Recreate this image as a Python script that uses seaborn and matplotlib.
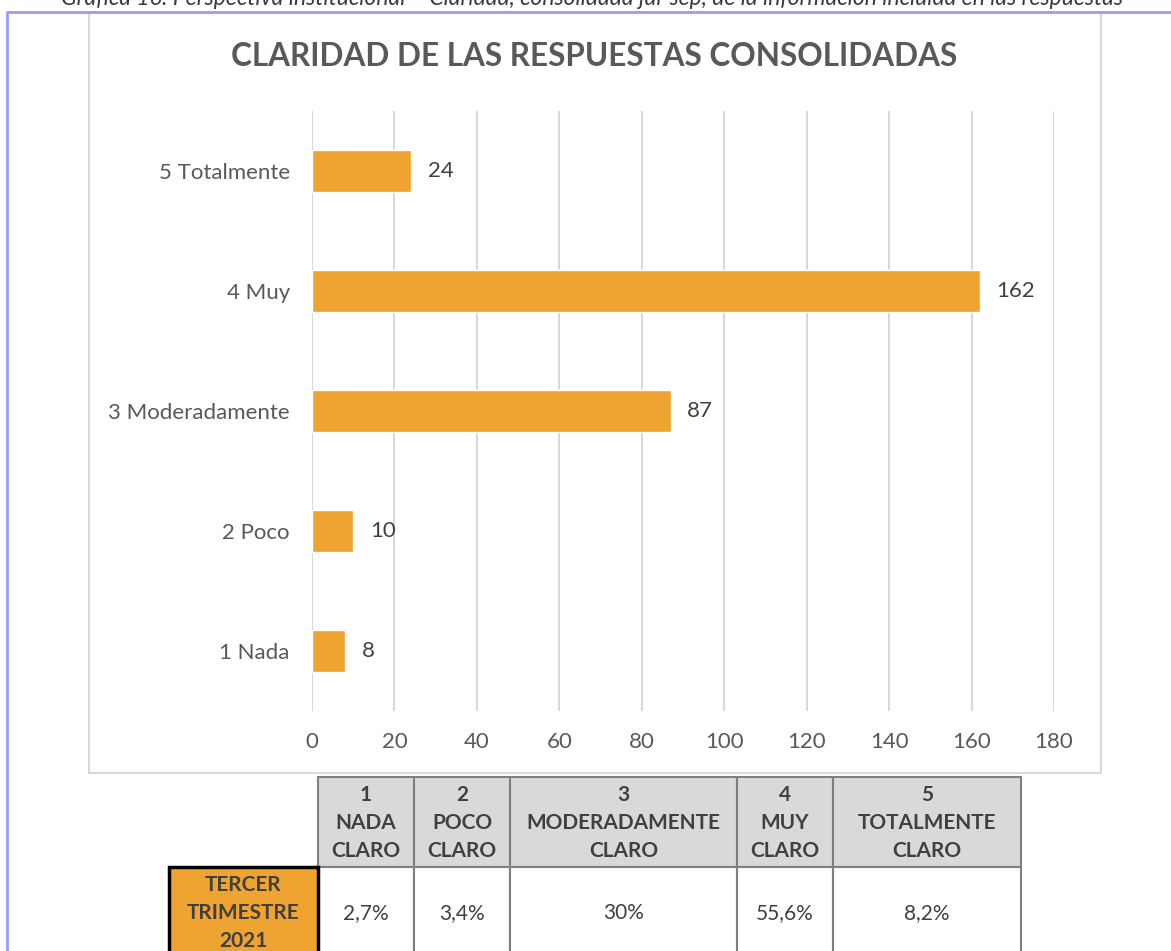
import matplotlib
matplotlib.use("Agg")
import matplotlib.pyplot as plt
import seaborn as sns
import pandas as pd
from matplotlib.patches import Rectangle

# data
categorias = ["5 Totalmente", "4 Muy", "3 Moderadamente", "2 Poco", "1 Nada"]
respuestas = [24, 162, 87, 10, 8]
x_ticks = [0, 20, 40, 60, 80, 100, 120, 140, 160, 180]

col_headers = ["1\nNADA\nCLARO", "2\nPOCO\nCLARO", "3\nMODERADAMENTE\nCLARO",
               "4\nMUY\nCLARO", "5\nTOTALMENTE\nCLARO"]
row_header = "TERCER\nTRIMESTRE\n2021"
porcentajes = ["2,7%", "3,4%", "30%", "55,6%", "8,2%"]

titulo = "CLARIDAD DE LAS RESPUESTAS CONSOLIDADAS"
caption = ("Gráfica 16: Perspectiva institucional – Claridad, consolidada jul-sep, "
           "de la información incluida en las respuestas")

ORANGE = "#EFA330"
GRID = "#D9D9D9"
TXT = "#595959"
DARK = "#404040"

sns.set_theme(style="white")
plt.rcParams["font.family"] = ["Lato", "DejaVu Sans"]

W, H = 1171, 951
fig = plt.figure(figsize=(W / 100, H / 100), dpi=100)

# overlay in pixel coords for frames and table
bg = fig.add_axes([0, 0, 1, 1])
bg.set_xlim(0, W)
bg.set_ylim(H, 0)
bg.axis("off")

# blue page border
bg.plot([7, 7, W], [H, 12, 12], color="#9C9CF5", lw=2, solid_capstyle="butt")
# chart frame
bg.add_patch(Rectangle((89, 12), 1101 - 89, 773 - 12, fill=False, ec=GRID, lw=1.5))

# caption is cut at the top edge, as in the source page
bg.text(592, 5, caption, ha="center", va="baseline", fontsize=16.5, style="italic",
        color="#3A3A3A")
bg.text(594, 57, titulo, ha="center", va="center", fontsize=22.7, fontweight="bold",
        color=TXT)

# bar chart
df = pd.DataFrame({"categoria": categorias, "valor": respuestas})
ax = fig.add_axes([312 / W, (H - 711) / H, 742 / W, 600 / H])
sns.barplot(data=df, x="valor", y="categoria", order=categorias, color=ORANGE,
            width=0.35, saturation=1, ax=ax)
ax.set_xlim(0, 180)
ax.set_ylim(4.5, -0.5)
ax.set_xticks(x_ticks)
ax.grid(axis="x", color=GRID, lw=1.5)
ax.set_axisbelow(True)
for s in ax.spines.values():
    s.set_visible(False)
ax.set_xlabel("")
ax.set_ylabel("")
ax.tick_params(axis="both", length=0, labelsize=16, colors=TXT)
ax.tick_params(axis="x", pad=15)
ax.tick_params(axis="y", pad=16)
for c in ax.containers:
    ax.bar_label(c, padding=12, fontsize=16, color=DARK)

# table
edges = [318, 414, 510, 737, 833, 1021]
top, mid, bot = 777, 867, 965
for i, h in enumerate(col_headers):
    x0, x1 = edges[i], edges[i + 1]
    bg.add_patch(Rectangle((x0, top), x1 - x0, mid - top, fc="#D9D9D9", ec="#7F7F7F", lw=1.5))
    bg.add_patch(Rectangle((x0, mid), x1 - x0, bot - mid, fc="white", ec="#7F7F7F", lw=1.5))
    bg.text((x0 + x1) / 2, (top + mid) / 2 + 1, h, ha="center", va="center",
            fontsize=15, fontweight="bold", color=DARK, linespacing=1.5)
    bg.text((x0 + x1) / 2, 913, porcentajes[i], ha="center", va="center",
            fontsize=15, color=DARK)
bg.add_patch(Rectangle((169, mid), edges[0] - 169, bot - mid, fc=ORANGE, ec="black", lw=2.5))
bg.text((169 + edges[0]) / 2, 913, row_header, ha="center", va="center",
        fontsize=15, fontweight="bold", color=DARK, linespacing=1.5)

fig.savefig("out.png", dpi=100)
